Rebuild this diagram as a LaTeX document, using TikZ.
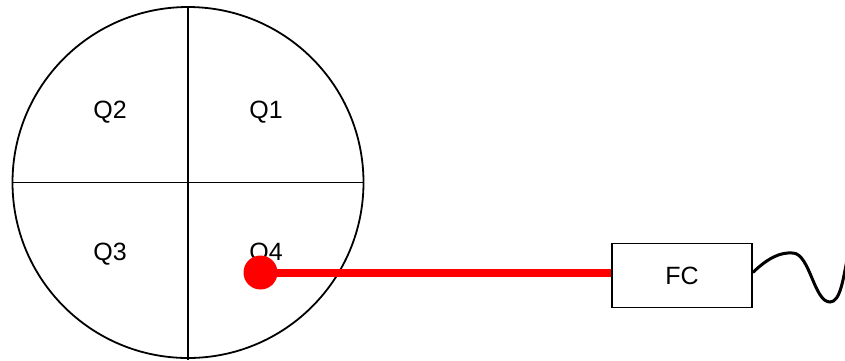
\documentclass[tikz,border=0pt]{standalone}
\usepackage{fontspec}
\setmainfont{Liberation Sans}
\begin{document}
\begin{tikzpicture}[x=1pt,y=-1pt,
  lbl/.style={font=\fontsize{25}{30}\selectfont, inner sep=0pt},
  fcbox/.style={draw, line width=1.6pt, minimum width=140pt, minimum height=64pt, inner sep=0pt, font=\fontsize{25}{30}\selectfont},
  reddot/.style={circle, fill=red, minimum size=34pt, inner sep=0pt}]
\useasboundingbox (0,0) rectangle (845,360);
\node[circle, draw, line width=1.8pt, minimum size=351pt, inner sep=0pt] (c) at (188,182.5) {};
\coordinate (ctop) at (188,7);
\coordinate (cbot) at (188,360);
\draw[line width=1.8pt] (c.west) -- (c.east);
\draw[line width=1.8pt] (ctop) -- (cbot);
\node[lbl] (q2) at (110,112) {Q2};
\node[lbl] (q1) at (266,112) {Q1};
\node[lbl] (q3) at (110,254) {Q3};
\node[lbl] (q4) at (266,254) {Q4};
\node[fcbox] (fc) at (682,275.5) {FC};
\node[reddot] (dot) at (260.5,272.5) {};
\draw[red, line width=8pt] (dot.center) -- (fc.west |- dot.center);
\coordinate (w1) at (793,253);
\coordinate (w2) at (830,302);
\coordinate (w3) at (847,260);
\draw[line width=3pt] (fc.east |- dot.center) .. controls (768,258) and (780,252) .. (w1)
  .. controls (810,254) and (814,302) .. (w2)
  .. controls (840,302) and (843,280) .. (w3);
\end{tikzpicture}
\end{document}
